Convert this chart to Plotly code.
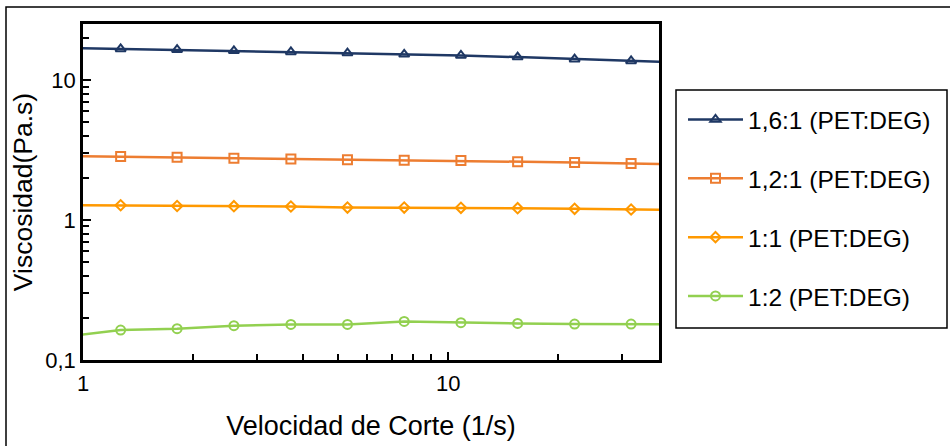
import plotly.graph_objects as go

# Shear rate (1/s) – first and last points lie outside the visible axis range
shear_rate = [0.887, 1.268, 1.81, 2.59, 3.71, 5.3, 7.58, 10.84, 15.5, 22.2, 31.7, 45.3]

visc_16_1 = [17.0, 16.7, 16.5, 16.2, 15.9, 15.6, 15.3, 15.0, 14.6, 14.1, 13.7, 13.3]
visc_12_1 = [2.87, 2.84, 2.81, 2.76, 2.73, 2.70, 2.67, 2.66, 2.61, 2.58, 2.54, 2.49]
visc_1_1 = [1.28, 1.276, 1.26, 1.256, 1.25, 1.229, 1.229, 1.223, 1.215, 1.203, 1.19, 1.18]
visc_1_2 = [0.147, 0.1635, 0.1675, 0.1758, 0.1797, 0.1797, 0.1888, 0.1848, 0.1826, 0.1805, 0.1805, 0.1797]

series_names = ["1,6:1 (PET:DEG)", "1,2:1 (PET:DEG)", "1:1 (PET:DEG)", "1:2 (PET:DEG)"]
series_values = [visc_16_1, visc_12_1, visc_1_1, visc_1_2]
colors = ["#1F3864", "#ED7D31", "#FF9900", "#92D050"]
symbols = ["triangle-up-open", "square-open", "diamond-open", "circle-open"]
sizes = [9, 9, 8, 9]

x_title = "Velocidad de Corte (1/s)"
y_title = "Viscosidad(Pa.s)"

W, H = 950, 446
L, R, T, B = 83, 291, 24, 86
pw, ph = W - L - R, H - T - B

def px_to_paper(x, y):
    return (x - L) / pw, (H - B - y) / ph

fig = go.Figure()
for i, (name, vals) in enumerate(zip(series_names, series_values)):
    fig.add_trace(go.Scatter(
        x=shear_rate, y=vals, name=name, mode="lines+markers",
        line=dict(color=colors[i], width=2.5),
        marker=dict(symbol=symbols[i], size=sizes[i], color=colors[i],
                    line=dict(width=2, color=colors[i])),
        legendgroup=f"g{i}",
    ))

font_family = "Liberation Sans, Arial, sans-serif"

fig.update_layout(
    width=W, height=H,
    margin=dict(l=L, r=R, t=T, b=B),
    paper_bgcolor="white", plot_bgcolor="white",
    separators=",.",
    font=dict(family=font_family, color="#000000", size=22),
    showlegend=True,
    legend=dict(
        x=px_to_paper(683, 0)[0], xanchor="left",
        y=px_to_paper(0, 97)[1], yanchor="top",
        font=dict(size=24.5, family=font_family, color="#000000"),
        bgcolor="rgba(0,0,0,0)", borderwidth=0,
        tracegroupgap=24, traceorder="grouped",
        itemwidth=55,
    ),
)

fig.update_xaxes(
    type="log", range=[0, 1.5775], automargin=False,
    dtick=1, showgrid=False, zeroline=False,
    showline=True, linecolor="#000000", linewidth=2.5, mirror=True,
    ticks="inside", ticklen=8, tickwidth=2, tickcolor="#000000",
    tickfont=dict(size=22), ticklabelstandoff=2,
    minor=dict(dtick="D1", ticks="inside", ticklen=6, tickwidth=2, tickcolor="#000000", showgrid=False),
    title=dict(text=x_title, font=dict(size=27), standoff=21),
)
fig.update_yaxes(
    type="log", range=[-1, 1.401], automargin=False,
    dtick=1, showgrid=False, zeroline=False,
    showline=True, linecolor="#000000", linewidth=2.5, mirror=True,
    ticks="inside", ticklen=8, tickwidth=2, tickcolor="#000000",
    tickfont=dict(size=22), ticklabelstandoff=0,
    minor=dict(dtick="D1", ticks="inside", ticklen=6, tickwidth=2, tickcolor="#000000", showgrid=False),
    title=dict(text=y_title, font=dict(size=26.5), standoff=5),
)

# legend frame
lx0, ly1 = px_to_paper(676, 90)
lx1, ly0 = px_to_paper(947, 328)
fig.add_shape(type="rect", xref="paper", yref="paper", x0=lx0, x1=lx1, y0=ly0, y1=ly1,
              line=dict(color="#000000", width=1.5), fillcolor="rgba(0,0,0,0)", layer="above")
# outer chart frame (extends past the right/bottom edge of the picture)
ox0, oy1 = px_to_paper(6, 7)
ox1, oy0 = px_to_paper(970, 470)
fig.add_shape(type="rect", xref="paper", yref="paper", x0=ox0, x1=ox1, y0=oy0, y1=oy1,
              line=dict(color="#000000", width=1.5), fillcolor="rgba(0,0,0,0)", layer="above")

fig.write_html("out.html", config={"displayModeBar": False},
               post_script="document.body.style.margin='0px';document.body.style.overflow='hidden';")
